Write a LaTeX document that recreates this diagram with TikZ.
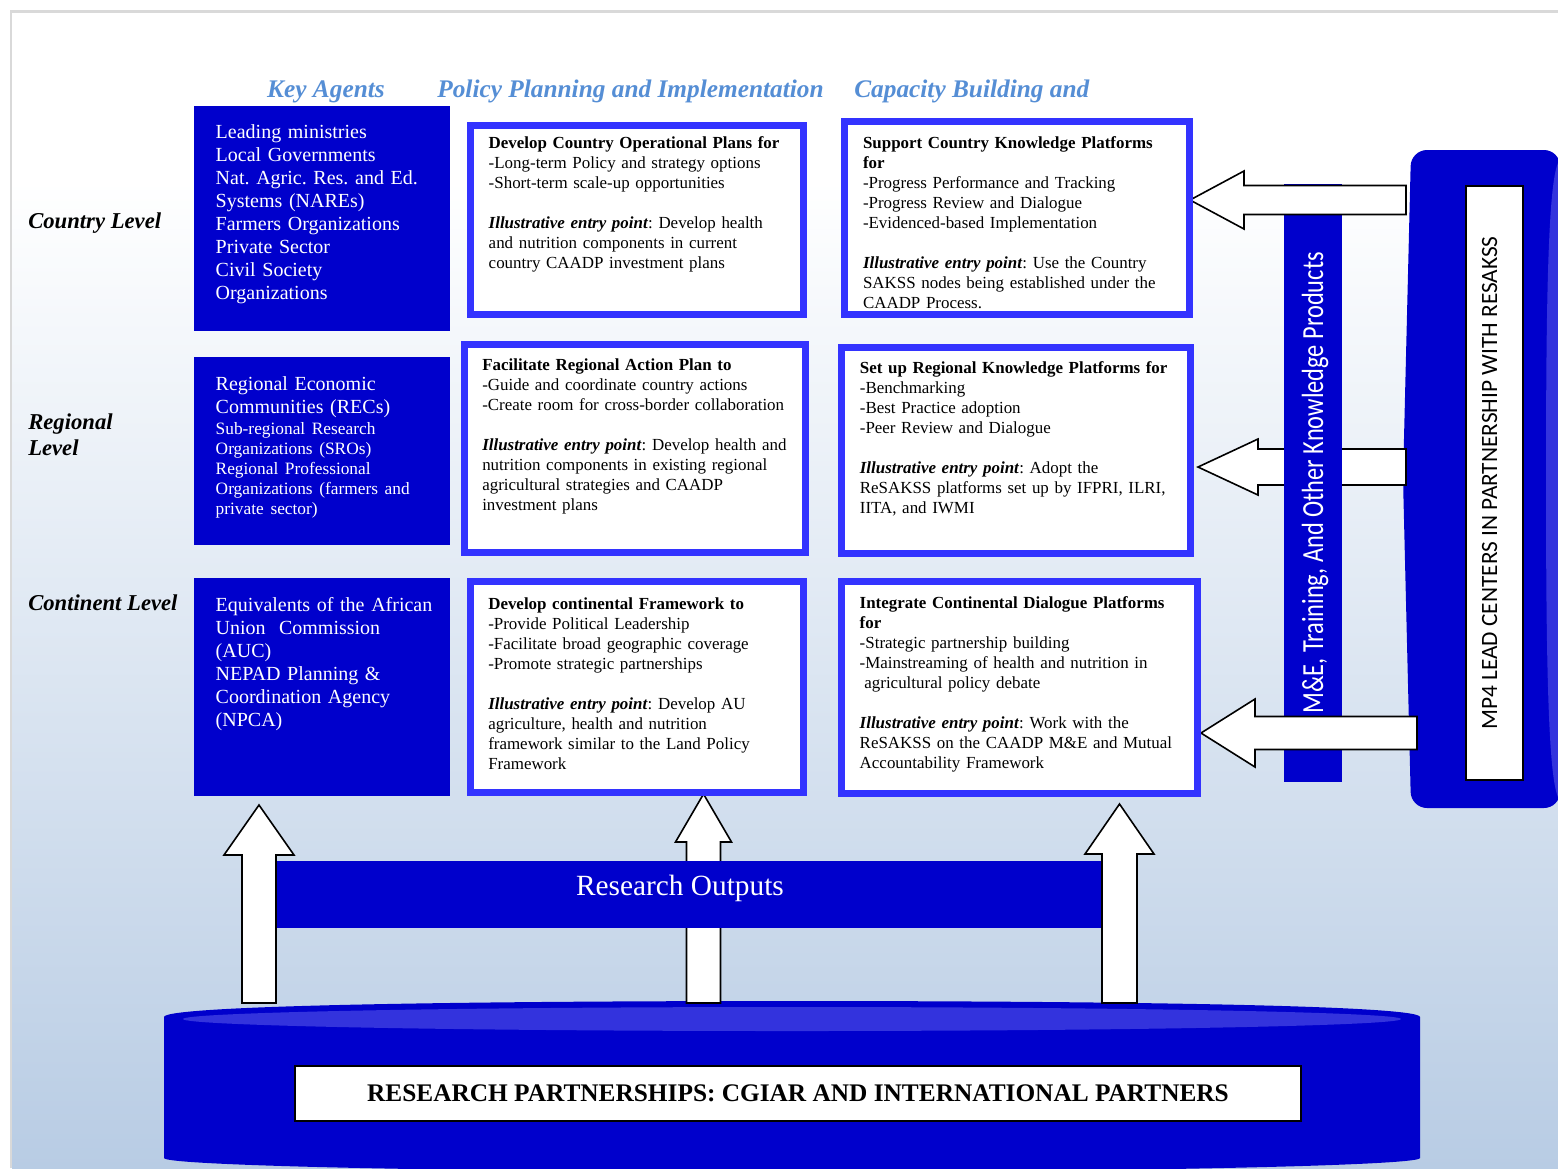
\documentclass[tikz,border=0pt]{standalone}
\usepackage{fontspec}
\setmainfont{Liberation Serif}
\setsansfont{Carlito}
\usetikzlibrary{positioning,calc}
\setlength{\parindent}{0pt}

\definecolor{agentblue}{RGB}{0,0,204}
\definecolor{frameblue}{RGB}{51,51,255}
\definecolor{headblue}{RGB}{85,142,213}
\definecolor{lidblue}{RGB}{51,51,221}
\definecolor{bgblue}{RGB}{184,204,228}
\definecolor{framegrey}{RGB}{217,217,217}

\newcommand{\illpt}{\textbf{\textit{Illustrative entry point}}}
% block arrows: centre, foot, tip, shaft half width, head half width, head length
\newcommand{\upblock}[6]{%
  \draw[blockarrow] (#1-#4,#2) -- (#1-#4,#3+#6) -- (#1-#5,#3+#6) -- (#1,#3)
    -- (#1+#5,#3+#6) -- (#1+#4,#3+#6) -- (#1+#4,#2) -- cycle;}
\newcommand{\leftblock}[6]{%
  \draw[blockarrow] (#2,#1-#4) -- (#3+#6,#1-#4) -- (#3+#6,#1-#5) -- (#3,#1)
    -- (#3+#6,#1+#5) -- (#3+#6,#1+#4) -- (#2,#1+#4) -- cycle;}

\begin{document}
\begin{tikzpicture}[x=0.75pt, y=-0.75pt,
    agentbox/.style={fill=agentblue, inner sep=0pt, outer sep=0pt, anchor=north west},
    agenttext/.style={text=white, inner sep=0pt, text width=175pt, align=left,
      font=\fontsize{15}{17.25}\selectfont\frenchspacing},
    planbox/.style={draw=frameblue, fill=white, line width=5.5pt, inner sep=0pt,
      outer sep=2.75pt, anchor=north west},
    plantext/.style={inner sep=0pt, text width=250pt, align=left,
      font=\fontsize{12.7}{15}\selectfont\frenchspacing},
    colhead/.style={text=headblue, inner sep=0pt, anchor=base,
      font=\fontsize{19}{22}\selectfont\bfseries\itshape},
    levellabel/.style={inner sep=0pt, font=\fontsize{17}{20}\selectfont\bfseries\itshape},
    blockarrow/.style={draw=black, fill=white, line width=1.2pt, line join=miter},
    whitebox/.style={draw=black, fill=white, line width=1.5pt, inner sep=0pt, anchor=north west}]

\useasboundingbox (0,0) rectangle (1558,1168);
\clip (0,0) rectangle (1558,1168);

% background
\fill[white] (0,0) rectangle (1558,1168);
\shade[top color=white, bottom color=bgblue] (12,180) rectangle (1558,1168);
\draw[framegrey, line width=2pt] (11,1168) -- (11,11.5) -- (1558,11.5);

% research partnerships cylinder
\fill[agentblue] (164,1017) .. controls (164,1005) and (480,1001) .. (792,1001)
  .. controls (1104,1001) and (1420,1005) .. (1420,1017) -- (1420,1158)
  .. controls (1420,1166) and (1104,1172) .. (792,1172)
  .. controls (480,1172) and (164,1166) .. (164,1158) -- cycle;
\fill[lidblue] (792,1019) ellipse [x radius=609, y radius=12];
\node[whitebox, minimum width=754.5pt, minimum height=41.25pt,
  font=\fontsize{19}{22}\selectfont\bfseries] (partners) at (294,1065)
  {RESEARCH PARTNERSHIPS: CGIAR AND INTERNATIONAL PARTNERS};

% up arrows
\upblock{259}{1003}{805}{17}{35}{50}
\upblock{703.5}{1003}{794}{17}{28}{48}
\upblock{1119.5}{1003}{804}{17.5}{34.5}{50}

\node[agentbox, minimum width=618pt, minimum height=50.25pt] (outputs) at (277,861) {};
\node[text=white, font=\fontsize{22}{26}\selectfont] (outputstext)
  at ($(outputs.center)+(-9,-6)$) {Research Outputs};

% MP4 lead centres
\fill[agentblue, rounded corners=12pt] (1560,150) -- (1411,150) -- (1403,479)
  -- (1411,808) -- (1560,808) -- cycle;
\fill[lidblue] (1560,160) .. controls (1548,170) and (1546,300) .. (1546,479)
  .. controls (1546,660) and (1548,790) .. (1560,800) -- cycle;
\node[whitebox, minimum width=42.75pt, minimum height=445.5pt] (mp4box) at (1465,185) {};
\node[rotate=90, inner sep=0pt, font=\sffamily\fontsize{17.5}{20}\selectfont] (mp4text)
  at ($(mp4box.center)+(-5,0)$) {MP4 LEAD CENTERS IN PARTNERSHIP WITH RESAKSS};

% knowledge products
\leftblock{467}{1406}{1198}{18}{28}{60}
\node[agentbox, minimum width=43.5pt, minimum height=448.5pt] (mebar) at (1284,184) {};
\node[rotate=90, inner sep=0pt, text=white, font=\sffamily\fontsize{23}{26}\selectfont] (metext)
  at ($(mebar.center)+(2,0)$) {\scalebox{0.795}[1]{M\&E, Training, And Other Knowledge Products}};
\leftblock{200}{1406}{1190}{14.5}{29}{54}
\leftblock{733}{1417}{1201}{16.5}{34}{54}

% key agents
\node[agentbox, minimum width=192pt, minimum height=168.75pt] (a1) at (194,106) {};
\node[agenttext, below right=14pt and 16.1pt of a1.north west] (a1text)
  {Leading ministries\\ Local Governments\\ Nat. Agric. Res. and Ed.\\ Systems (NAREs)\\
   Farmers Organizations\\ Private Sector\\ Civil Society\\ Organizations};
\node[agentbox, minimum width=192pt, minimum height=141pt] (a2) at (194,357) {};
\node[agenttext, below right=14.25pt and 16.1pt of a2.north west] (a2text)
  {Regional Economic\\ Communities (RECs)\par\vspace{1pt}
   {\fontsize{13}{15}\selectfont Sub-regional Research\\ Organizations (SROs)\\
   Regional Professional\\ Organizations (farmers and\\ private sector)\par}};
\node[agentbox, minimum width=192pt, minimum height=163.5pt] (a3) at (194,578) {};
\node[agenttext, below right=14.25pt and 16.1pt of a3.north west] (a3text)
  {Equivalents of the African\\ Union\ \ Commission\\ (AUC)\\ NEPAD Planning \&\\
   Coordination Agency\\ (NPCA)};

% policy planning and implementation
\node[planbox, minimum width=249.5pt, minimum height=141.5pt] (p1) at (467,122) {};
\node[plantext, below right=11pt and 16.1pt of p1.north west] (p1text)
  {\textbf{Develop Country Operational Plans for}\\ -Long-term Policy and strategy options\\
   -Short-term scale-up opportunities\\[15pt]
   \illpt: Develop health\\ and nutrition components in current\\ country CAADP investment plans};
\node[planbox, minimum width=255.5pt, minimum height=155.75pt] (p2) at (461,341) {};
\node[plantext, below right=12.75pt and 15.75pt of p2.north west] (p2text)
  {\textbf{Facilitate Regional Action Plan to}\\ -Guide and coordinate country actions\\
   -Create room for cross-border collaboration\\[15pt]
   \illpt: Develop health and\\ nutrition components in existing regional\\
   agricultural strategies and CAADP\\ investment plans};
\node[planbox, minimum width=249.5pt, minimum height=158pt] (p3) at (467,578) {};
\node[plantext, below right=14.25pt and 15.75pt of p3.north west] (p3text)
  {\textbf{Develop continental Framework to}\\ -Provide Political Leadership\\
   -Facilitate broad geographic coverage\\ -Promote strategic partnerships\\[15pt]
   \illpt: Develop AU\\ agriculture, health and nutrition\\
   framework similar to the Land Policy\\ Framework};

% capacity building
\node[planbox, minimum width=258.5pt, minimum height=144.5pt] (c1) at (841,118) {};
\node[plantext, below right=13.8pt and 16.3pt of c1.north west] (c1text)
  {\textbf{Support Country Knowledge Platforms}\\ \textbf{for}\\
   -Progress Performance and Tracking\\ -Progress Review and Dialogue\\
   -Evidenced-based Implementation\\[15pt]
   \illpt: Use the Country\\ SAKSS nodes being established under the\\ CAADP Process.};
\node[planbox, minimum width=261.5pt, minimum height=154.25pt] (c2) at (838,344) {};
\node[plantext, below right=13pt and 16.2pt of c2.north west] (c2text)
  {\textbf{Set up Regional Knowledge Platforms for}\\ -Benchmarking\\
   -Best Practice adoption\\ -Peer Review and Dialogue\\[15pt]
   \illpt: Adopt the\\ ReSAKSS platforms set up by IFPRI, ILRI,\\ IITA, and IWMI};
\node[planbox, minimum width=266.75pt, minimum height=158.75pt] (c3) at (838,578) {};
\node[plantext, below right=14pt and 16.1pt of c3.north west] (c3text)
  {\textbf{Integrate Continental Dialogue Platforms}\\ \textbf{for}\\
   -Strategic partnership building\\ -Mainstreaming of health and nutrition in\\
   \hspace*{3.5pt}agricultural policy debate\\[15pt]
   \illpt: Work with the\\ ReSAKSS on the CAADP M\&E and Mutual\\ Accountability Framework};

% column heads and levels
\node[colhead] (hagents) at (326,97) {Key Agents};
\node[colhead] (hplan) at (630.5,97) {Policy Planning and Implementation};
\node[colhead, anchor=base west] (hcap) at (854,97) {Capacity Building and};
\node[levellabel, anchor=base west] (lcountry) at (28,228) {Country Level};
\node[levellabel, anchor=north west, text width=100pt, align=left] (lregion) at (28,413)
  {Regional\\ Level};
\node[levellabel, anchor=base west] (lcontinent) at (28,610) {Continent Level};

\end{tikzpicture}
\end{document}
